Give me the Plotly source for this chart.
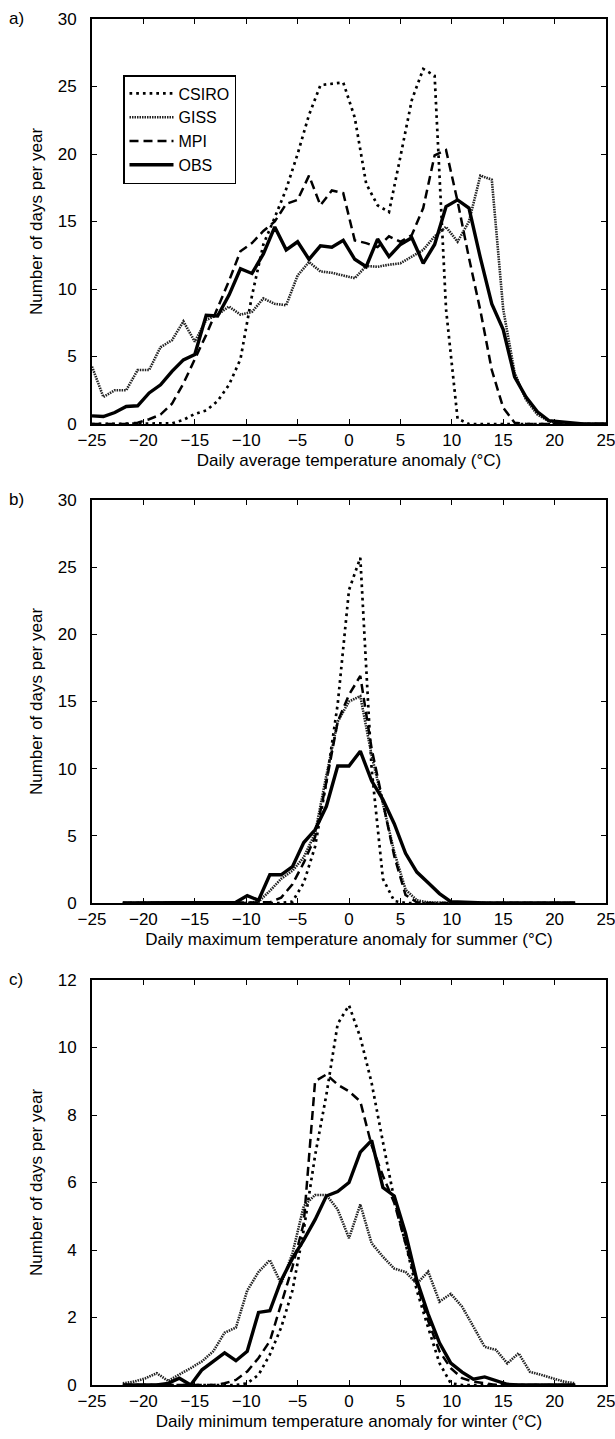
import plotly.graph_objects as go

# ---------------- data ----------------
x_a = [-25.00, -23.89, -22.78, -21.67, -20.56, -19.44, -18.33, -17.22, -16.11, -15.00,
       -13.89, -12.78, -11.67, -10.56, -9.44, -8.33, -7.22, -6.11, -5.00, -3.89,
       -2.78, -1.67, -0.56, 0.56, 1.67, 2.78, 3.89, 5.00, 6.11, 7.22,
       8.33, 9.44, 10.56, 11.67, 12.78, 13.89, 15.00, 16.11, 17.22, 18.33,
       19.44, 20.56, 21.67, 22.78, 23.89, 25.00]

csiro_a = [0, 0, 0, 0, 0, 0, 0, 0.05, 0.3, 0.75,
           1.0, 1.7, 2.9, 4.8, 9.5, 13.3, 15.3, 17.4, 20.0, 22.9,
           25.1, 25.2, 25.3, 22.7, 17.8, 16.2, 15.7, 19.8, 24.0, 26.3,
           25.8, 8.5, 0.4, 0, 0, 0, 0, 0, 0, 0,
           0, 0, 0, 0, 0, 0]
giss_a = [4.25, 2.0, 2.5, 2.5, 4.0, 4.0, 5.7, 6.2, 7.6, 6.1,
          7.7, 8.1, 8.7, 8.1, 8.3, 9.3, 8.9, 8.8, 11.0, 12.0,
          11.3, 11.2, 11.0, 10.8, 11.7, 11.65, 11.8, 11.9, 12.4, 12.9,
          13.9, 14.6, 13.5, 15.0, 18.4, 18.1, 8.5, 3.8, 1.8, 0.7,
          0.2, 0.05, 0, 0, 0, 0]
mpi_a = [0, 0, 0, 0, 0.1, 0.35, 0.7, 1.5, 3.0, 4.8,
         6.6, 8.6, 10.6, 12.8, 13.4, 14.3, 15.0, 16.3, 16.6, 18.4,
         16.2, 17.3, 17.1, 13.6, 13.4, 13.1, 13.9, 13.5, 14.0, 16.0,
         19.9, 20.3, 16.5, 12.3, 8.4, 4.0, 1.2, 0.1, 0, 0,
         0, 0, 0, 0, 0, 0]
obs_a = [0.6, 0.55, 0.85, 1.3, 1.35, 2.3, 2.9, 3.9, 4.75, 5.15,
         8.05, 8.0, 9.55, 11.5, 11.15, 12.6, 14.6, 12.9, 13.5, 12.2,
         13.2, 13.1, 13.6, 12.2, 11.65, 13.7, 12.4, 13.3, 13.8, 11.9,
         13.3, 16.1, 16.6, 16.0, 12.3, 8.9, 7.0, 3.5, 2.0, 0.9,
         0.25, 0.15, 0.05, 0, 0, 0]

x_bc = [-22.0, -20.9, -19.8, -18.7, -17.6, -16.5, -15.4, -14.3, -13.2, -12.1,
        -11.0, -9.9, -8.8, -7.7, -6.6, -5.5, -4.4, -3.3, -2.2, -1.1,
        0.0, 1.1, 2.2, 3.3, 4.4, 5.5, 6.6, 7.7, 8.8, 9.9,
        11.0, 12.1, 13.2, 14.3, 15.4, 16.5, 17.6, 18.7, 19.8, 20.9, 22.0]

csiro_b = [0, 0, 0, 0, 0, 0, 0, 0, 0, 0,
           0, 0, 0, 0, 0, 0.1, 1.5, 4.2, 9.0, 14.8,
           23.3, 25.7, 10.0, 1.8, 0.15, 0, 0, 0, 0, 0,
           0, 0, 0, 0, 0, 0, 0, 0, 0, 0, 0]
giss_b = [0, 0, 0, 0, 0, 0, 0, 0, 0, 0,
          0, 0, 0.1, 0.9, 1.8, 2.4, 3.4, 5.2, 9.5, 13.5,
          15.0, 15.4, 11.0, 7.3, 3.8, 1.0, 0.2, 0.05, 0, 0,
          0, 0, 0, 0, 0, 0, 0, 0, 0, 0, 0]
mpi_b = [0, 0, 0, 0, 0, 0, 0, 0, 0, 0,
         0, 0, 0, 0.05, 0.4, 1.4, 3.0, 4.9, 9.0, 13.5,
         15.5, 16.9, 11.5, 7.5, 3.5, 0.6, 0.05, 0, 0, 0,
         0, 0, 0, 0, 0, 0, 0, 0, 0, 0, 0]
obs_b = [0, 0, 0, 0, 0, 0, 0, 0, 0, 0,
         0.05, 0.55, 0.2, 2.1, 2.1, 2.7, 4.5, 5.45, 7.2, 10.2,
         10.2, 11.3, 9.1, 7.7, 5.9, 3.7, 2.3, 1.5, 0.7, 0.1,
         0.05, 0, 0, 0, 0, 0, 0, 0, 0, 0, 0]

csiro_c = [0, 0, 0, 0, 0, 0, 0, 0, 0, 0,
           0, 0.05, 0.3, 0.9, 1.7, 2.8, 4.6, 6.8, 8.6, 10.7,
           11.25, 10.3, 8.95, 7.2, 5.5, 4.2, 2.8, 1.7, 0.65, 0.05,
           0, 0, 0, 0, 0, 0, 0, 0, 0, 0, 0]
giss_c = [0.05, 0.1, 0.2, 0.35, 0.12, 0.3, 0.5, 0.7, 1.0, 1.55,
          1.7, 2.8, 3.35, 3.7, 3.0, 3.9, 5.3, 5.63, 5.63, 5.2,
          4.35, 5.35, 4.2, 3.8, 3.45, 3.35, 3.0, 3.36, 2.47, 2.7,
          2.32, 1.73, 1.13, 1.04, 0.64, 0.94, 0.39, 0.3, 0.2, 0.1, 0.05]
mpi_c = [0, 0, 0, 0, 0, 0, 0, 0, 0, 0.05,
         0.15, 0.4, 0.8, 1.3, 2.4, 3.5, 4.8, 9.0, 9.2, 8.9,
         8.7, 8.4, 7.1, 6.2, 5.4, 4.2, 3.0, 1.9, 1.0, 0.5,
         0.2, 0.1, 0.05, 0, 0, 0, 0, 0, 0, 0, 0]
obs_c = [0, 0, 0, 0, 0.05, 0.2, 0.0, 0.45, 0.7, 0.95,
         0.72, 1.0, 2.15, 2.2, 3.1, 3.75, 4.3, 4.9, 5.6, 5.73,
         6.0, 6.9, 7.25, 5.85, 5.6, 4.5, 3.1, 2.1, 1.25, 0.65,
         0.38, 0.17, 0.24, 0.12, 0.02, 0, 0, 0, 0, 0, 0]

series_names = ["CSIRO", "GISS", "MPI", "OBS"]
x_ticks = [-25, -20, -15, -10, -5, 0, 5, 10, 15, 20, 25]
x_titles = ["Daily average temperature anomaly (°C)",
            "Daily maximum temperature anomaly for summer (°C)",
            "Daily minimum temperature anomaly for winter (°C)"]
y_title = "Number of days per year"
panel_labels = ["a)", "b)", "c)"]
y_max = [30, 30, 12]
y_dtick = [5, 5, 2]

# ---------------- styles ----------------
styles = {
    "CSIRO": dict(color="black", width=2.7, dash="2.7px,4px"),
    "GISS": dict(color="#222222", width=2.6, dash="1.5px,1px"),
    "MPI": dict(color="black", width=2.5, dash="9px,5px"),
    "OBS": dict(color="black", width=3.4),
}

W, H = 615, 1439
FONT = "Liberation Sans, Arial, sans-serif"
TICK_SIZE = 17
TITLE_SIZE = 17

panels = [
    (x_a, [csiro_a, giss_a, mpi_a, obs_a]),
    (x_bc, [csiro_b, giss_b, mpi_b, obs_b]),
    (x_bc, [csiro_c, giss_c, mpi_c, obs_c]),
]
# pixel boxes (left, top, right, bottom)
boxes = [(92, 19, 606, 424), (92, 500, 606, 903), (92, 980, 606, 1385)]

fig = go.Figure()
layout = {}
for i, ((xs, ys), box) in enumerate(zip(panels, boxes)):
    sfx = "" if i == 0 else str(i + 1)
    for name, yv in zip(series_names, ys):
        fig.add_trace(go.Scatter(
            x=xs, y=yv, mode="lines", name=name,
            line=styles[name], showlegend=(i == 0),
            xaxis="x" + sfx, yaxis="y" + sfx))
    l, t, r, b = box
    common = dict(showline=True, linecolor="black", linewidth=1.8, mirror="ticks",
                  ticks="inside", ticklen=5, tickwidth=1.3, tickcolor="black",
                  showgrid=False, zeroline=False, automargin=True,
                  ticklabeloverflow="allow",
                  tickfont=dict(family=FONT, size=TICK_SIZE, color="black"))
    layout["xaxis" + sfx] = dict(
        domain=[l / W, r / W], anchor="y" + sfx, range=[-25, 25],
        tickvals=x_ticks, ticklabelstandoff=0,
        title=dict(text=x_titles[i], font=dict(family=FONT, size=TITLE_SIZE, color="black"),
                   standoff=5),
        **common)
    layout["yaxis" + sfx] = dict(
        domain=[1 - b / H, 1 - t / H], anchor="x" + sfx, range=[0, y_max[i]],
        dtick=y_dtick[i], tick0=0, ticklabelstandoff=10,
        title=dict(text=y_title, font=dict(family=FONT, size=TITLE_SIZE, color="black"),
                   standoff=11),
        **common)

annotations = []
for lab, box in zip(panel_labels, boxes):
    annotations.append(dict(text=lab, x=7 / W, y=1 - (box[1] - 1) / H,
                            xref="paper", yref="paper", xanchor="left",
                            yanchor="middle", showarrow=False,
                            font=dict(family=FONT, size=TITLE_SIZE, color="black")))

fig.update_layout(
    width=W, height=H, margin=dict(l=0, r=0, t=0, b=0, autoexpand=False),
    plot_bgcolor="white", paper_bgcolor="white",
    font=dict(family=FONT, size=TICK_SIZE, color="black"),
    legend=dict(x=123 / W, y=1 - 75 / H, xanchor="left", yanchor="top",
                bgcolor="white", bordercolor="black", borderwidth=1.5,
                font=dict(family=FONT, size=16, color="black"),
                itemwidth=44, tracegroupgap=0),
    annotations=annotations,
    **layout)

fig.write_html("out.html")
